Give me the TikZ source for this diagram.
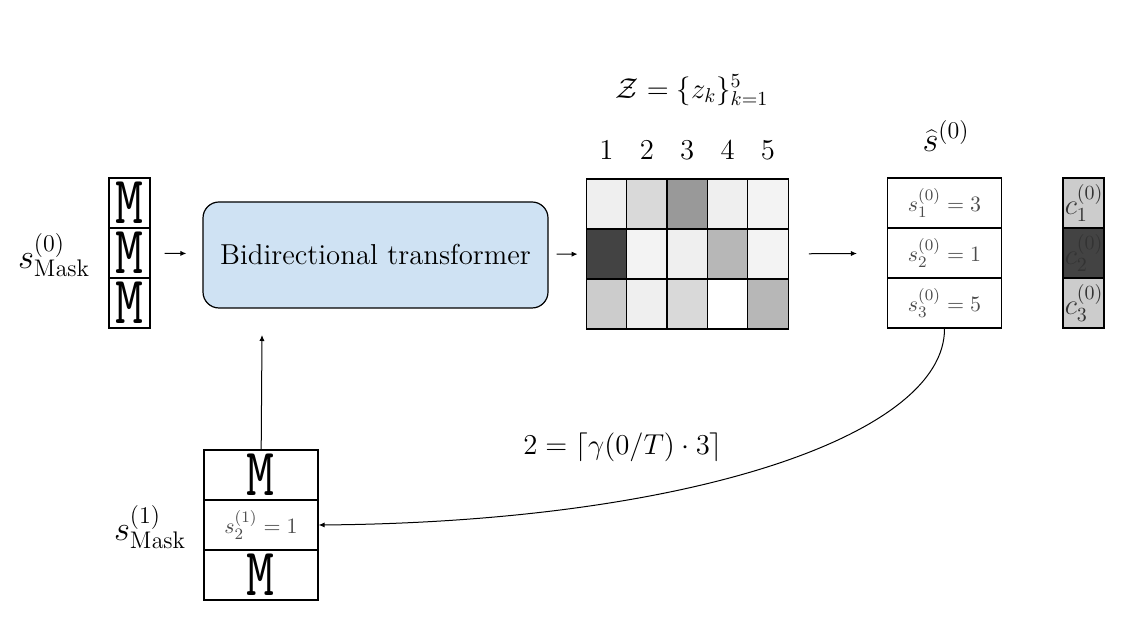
\documentclass[tikz,border=0pt]{standalone}
\usepackage{graphicx}
\usetikzlibrary{positioning,arrows.meta}

\definecolor{tfblue}{HTML}{CFE2F3}
\definecolor{gA}{HTML}{F3F3F3}
\definecolor{gB}{HTML}{EFEFEF}
\definecolor{gC}{HTML}{D9D9D9}
\definecolor{gD}{HTML}{CCCCCC}
\definecolor{gE}{HTML}{B7B7B7}
\definecolor{gF}{HTML}{999999}
\definecolor{gG}{HTML}{434343}

\newcommand{\maskM}{\scalebox{0.8}[1]{\fontsize{34}{34}\selectfont\ttfamily M}}

\tikzset{
  tok/.style={draw, line width=0.6pt, minimum width=20.5pt, minimum height=25pt, inner sep=0pt},
  wtok/.style={tok, minimum width=57pt},
  cell/.style={draw, line width=0.6pt, minimum width=20.2pt, minimum height=25pt, inner sep=0pt},
  small/.style={font=\fontsize{11}{13}\selectfont, text=black!70},
  conf/.style={font=\Large, text=black!80, inner sep=0pt, anchor=west},
}

\begin{document}
\begin{tikzpicture}[x=0.5pt,y=-0.5pt,on grid,node distance=25pt,>={Latex[length=3pt,width=2.6pt]}]
   \useasboundingbox (0,0) rectangle (1140,635);
   % input mask sequence
   \node[tok] (m1) at (129.5,203) {\maskM};
   \node[tok] (m2) [below=of m1] {\maskM};
   \node[tok] (m3) [below=of m2] {\maskM};
   \node[font=\LARGE] (s0mask) at (54,255) {$s^{(0)}_{\mathrm{Mask}}$};
   % transformer
   \node[draw, line width=0.6pt, fill=tfblue, rounded corners=8pt,
         minimum width=172.5pt, minimum height=53pt, font=\Large] (tf) at (375.5,255) {Bidirectional transformer};
   \coordinate (tfin) at (262,335);
   % codebook logits
   \foreach \row/\colors in {1/{gB,gC,gF,gB,gA},2/{gG,gA,gB,gE,gA},3/{gD,gB,gC,white,gE}}{
     \foreach \c [count=\k] in \colors {
       \node[cell, fill=\c] (z\row\k) at (566+\k*40.4,154+\row*50) {};
     }
   }
   \foreach \k in {1,...,5}{
     \node[font=\Large] (n\k) at (566+\k*40.4,150) {$\k$};
   }
   \node[font=\Large] (zset) at (692,90) {$\mathcal{Z}=\{z_k\}_{k=1}^{5}$};
   % sampled tokens
   \node[wtok, small] (sh1) at (944.5,203) {$s^{(0)}_1=3$};
   \node[wtok, small] (sh2) [below=of sh1] {$s^{(0)}_2=1$};
   \node[wtok, small] (sh3) [below=of sh2] {$s^{(0)}_3=5$};
   \node[font=\LARGE] (shat) at (946,136) {$\widehat{s}^{(0)}$};
   % confidences
   \node[tok, fill=gD] (c1) at (1083.5,203) {};
   \node[tok, fill=gG] (c2) [below=of c1] {};
   \node[tok, fill=gD] (c3) [below=of c2] {};
   \node[conf] (c1l) at ([xshift=1pt]c1.west) {$c^{(0)}_1$};
   \node[conf] (c2l) at ([xshift=1pt]c2.west) {$c^{(0)}_2$};
   \node[conf] (c3l) at ([xshift=1pt]c3.west) {$c^{(0)}_3$};
   % next mask sequence
   \node[wtok] (b1) at (261,475) {\maskM};
   \node[wtok, small] (b2) [below=of b1] {$s^{(1)}_2=1$};
   \node[wtok] (b3) [below=of b2] {\maskM};
   \node[font=\LARGE] (s1mask) at (150,527) {$s^{(1)}_{\mathrm{Mask}}$};
   \node[font=\Large] (gam) at (623,447) {$2=\lceil\gamma(0/T)\cdot 3\rceil$};
   \path[->, line width=0.5pt]
        (m2) edge[shorten <=7pt, shorten >=8pt] (tf)
        (tf) edge[shorten <=4pt, shorten >=4pt] (z21)
        (z25) edge[shorten <=10pt, shorten >=15pt] (sh2)
        (b1) edge (tfin)
        ;
   \draw[->, line width=0.5pt] (sh3.south) .. controls (945,435) and (690,522) .. (b2.east);
\end{tikzpicture}
\end{document}
